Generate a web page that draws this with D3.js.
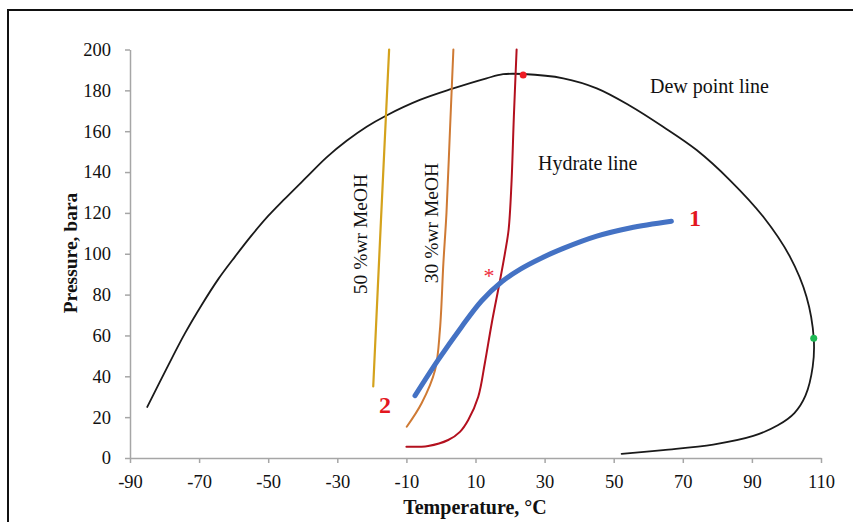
<!DOCTYPE html>
<html><head><meta charset="utf-8">
<script src="https://cdn.jsdelivr.net/npm/d3@7"></script>
<style>body{margin:0;background:#fff;} svg{display:block;font-family:"Liberation Serif","Times New Roman",serif;}</style>
</head><body>
<svg id="c" width="853" height="522"></svg>
<script>
const xTicks = [-90,-70,-50,-30,-10,10,30,50,70,90,110];
const yTicks = [0,20,40,60,80,100,120,140,160,180,200];
const dewLine = [[-85,25],[-78.9,45.5],[-74.1,61],[-69.3,74.8],[-64.4,87.7],[-59.6,98.6],[-54.8,109],[-50,118.5],[-45.6,126.2],[-38.9,137.5],[-33.1,147.2],[-27.3,155.3],[-21.5,162.2],[-15.9,167.6],[-6.1,175.3],[3.1,180.7],[13.2,185.9],[18,187.9],[23.8,188],[35.4,185.9],[45.1,181],[54.7,172.5],[64.3,162.2],[74,150.8],[83.6,136.1],[93.3,118.1],[101,98.6],[105.8,79],[107.9,58.6],[107.6,44.7],[105.5,30.5],[102.3,22],[97.5,16],[90.4,10.8],[78.8,6.6],[64.3,3.9],[52.3,2]];
const hydrateLine = [[-10,5.5],[-3.7,5.9],[2.1,8.8],[5.5,12.8],[7.9,18.6],[10.8,30],[12.7,46.4],[14.7,66],[17.1,87],[18.6,101],[19.6,112],[20.4,134],[21.1,167],[21.9,200]];
const meoh50 = [[-19.6,35],[-17.4,115],[-15,200]];
const meoh30 = [[-9.9,15.3],[-5.6,26.8],[-1.7,43.1],[-0.3,62.7],[0.7,95.3],[1.6,120],[2.6,160],[3.6,200]];
const path1 = [[-7.5,30.5],[-0.8,48],[6,64.3],[11.8,77],[17.6,86.3],[23,92.5],[28.7,97.6],[35.4,102.6],[45.1,108.6],[54.7,112.6],[66.7,115.9]];
const redPoint = [[23.8,187.5]];
const greenPoint = [[107.9,58.6]];

const svg = d3.select("#c");
svg.append("rect").attr("x",8).attr("y",10).attr("width",860).attr("height",530)
  .attr("fill","none").attr("stroke","#111").attr("stroke-width",2);

const x = d3.scaleLinear().domain([-90,110]).range([130,821]);
const y = d3.scaleLinear().domain([0,200]).range([458,49.5]);

const axisColor = "#a6a6a6";
const gx = svg.append("g").attr("transform","translate(0,458)")
  .call(d3.axisBottom(x).tickValues(xTicks).tickSize(5).tickSizeOuter(0).tickFormat(d=>String(d)));
const gy = svg.append("g").attr("transform","translate(130,0)")
  .call(d3.axisLeft(y).tickValues(yTicks).tickSize(5).tickSizeOuter(0).tickFormat(d=>String(d)));
[gx,gy].forEach(g=>{
  g.select(".domain").attr("stroke",axisColor).attr("stroke-width",1.5);
  g.selectAll(".tick line").attr("stroke",axisColor).attr("stroke-width",1.5);
  g.selectAll(".tick text").attr("fill","#111").attr("font-size",18.5).attr("font-family","Liberation Serif, serif");
});
gx.selectAll(".tick text").attr("dy","0.71em").attr("y",17);
gy.selectAll(".tick text").attr("x",-19);

const line = d3.line().x(d=>x(d[0])).y(d=>y(d[1])).curve(d3.curveCatmullRom.alpha(0.5));
function draw(data,color,w){
  svg.append("path").datum(data).attr("d",line).attr("fill","none")
    .attr("stroke",color).attr("stroke-width",w).attr("stroke-linecap","round");
}
draw(dewLine,"#1a1a1a",1.8);
draw(meoh50,"#d4a21c",2.2);
draw(meoh30,"#cf7a34",2);
draw(hydrateLine,"#b3101e",2);
draw(path1,"#4472c4",5);

svg.selectAll(".rp").data(redPoint).join("circle").attr("cx",d=>x(d[0])).attr("cy",d=>y(d[1])).attr("r",3.5).attr("fill","#ee1c25");
svg.selectAll(".gp").data(greenPoint).join("circle").attr("cx",d=>x(d[0])).attr("cy",d=>y(d[1])).attr("r",3.5).attr("fill","#1db954");

function txt(t,px,py,opts={}){
  const e = svg.append("text").attr("x",px).attr("y",py).text(t)
    .attr("font-size",opts.size||16).attr("fill",opts.fill||"#111")
    .attr("font-weight",opts.weight||"normal").attr("text-anchor",opts.anchor||"start");
  if(opts.rot) e.attr("transform",`rotate(${opts.rot},${px},${py})`);
  return e;
}
txt("Dew point line",650,93,{size:20});
txt("Hydrate line",538,170,{size:20});
txt("50 %wr MeOH",367,234,{size:19.5,rot:-90,anchor:"middle"});
txt("30 %wr MeOH",438,223,{size:19.5,rot:-90,anchor:"middle"});
txt("1",695,226,{size:24,weight:"bold",fill:"#e3171f",anchor:"middle"});
txt("2",385,413,{size:24,weight:"bold",fill:"#e3171f",anchor:"middle"});
txt("*",489,283,{size:22,fill:"#ee2a3a",anchor:"middle"});
txt("Temperature, °C",475,514,{size:20,weight:"bold",anchor:"middle"});
txt("Pressure, bara",77,253,{size:19.5,weight:"bold",rot:-90,anchor:"middle"});
</script>
</body></html>
